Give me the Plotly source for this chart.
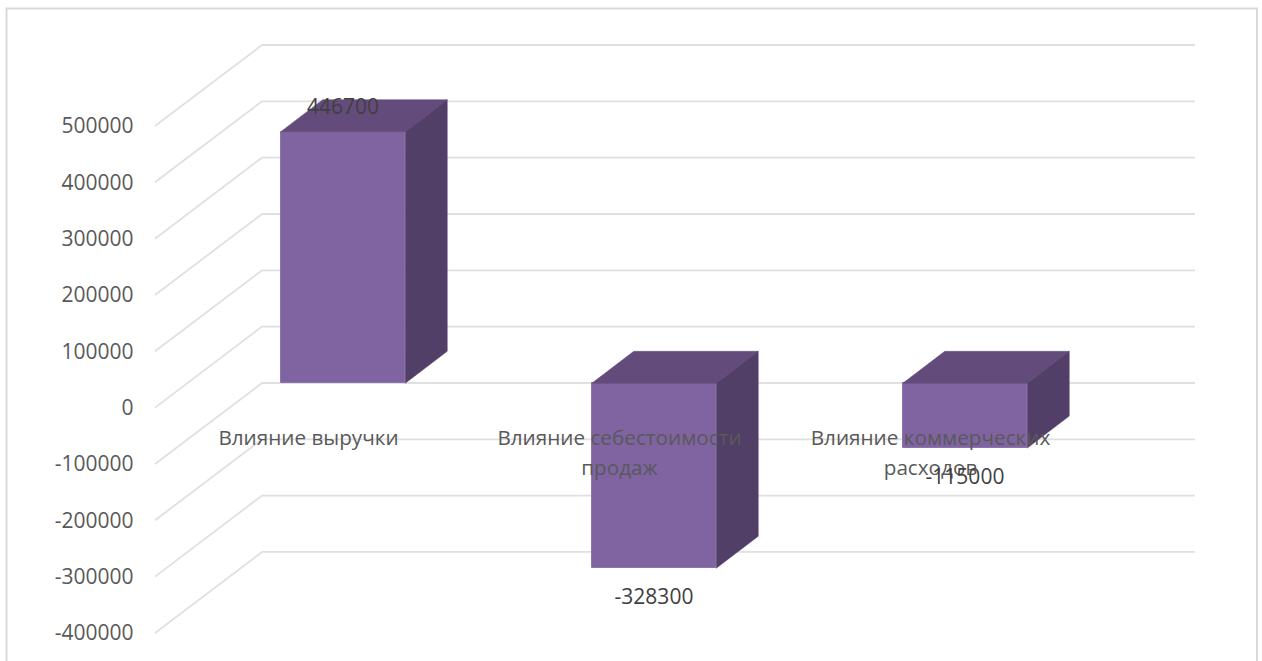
import plotly.graph_objects as go

# ---- data ----
cat_line1 = ["Влияние выручки", "Влияние себестоимости", "Влияние коммерческих"]
cat_line2 = ["", "продаж", "расходов"]
values = [446700, -328300, -115000]
tick_values = [500000, 400000, 300000, 200000, 100000, 0, -100000, -200000, -300000, -400000]

# ---- geometry (style constants for the oblique projection) ----
W, H = 1262, 661
PX_PER_X = 311.0            # pixels per category step
PX_PER_V = 56.33 / 100000   # pixels per value unit
X0_PX = 343.0               # pixel of first category
Y0_PX = 383.3               # pixel of zero on the bar plane
Y0_TICK_PX = 407.65         # pixel of zero on the front axis plane
BAR_W = 124.5 / PX_PER_X
BAR_DX, BAR_DV = 42 / PX_PER_X, 32 / PX_PER_V
WALL_DX, WALL_DV = 107 / PX_PER_X, 81 / PX_PER_V
WALL_X0 = (155 - X0_PX) / PX_PER_X
WALL_X1 = (1195 - X0_PX) / PX_PER_X
CAT_SHIFT = -34.5 / PX_PER_X

FRONT, TOP, SIDE = "#8064A2", "#634C7B", "#523F68"
GRID = "#E0E0E0"

fig = go.Figure()

# wall gridlines (front tick, diagonal, back wall), on the tick axis
for v in tick_values:
    fig.add_trace(go.Scatter(
        x=[WALL_X0, WALL_X0 + WALL_DX, WALL_X1],
        y=[v, v + WALL_DV, v + WALL_DV],
        mode="lines", line=dict(color=GRID, width=1.8),
        hoverinfo="skip", showlegend=False))

# top and side faces
for i, v in enumerate(values):
    left, right = i - BAR_W / 2, i + BAR_W / 2
    t, b = max(v, 0), min(v, 0)
    fig.add_trace(go.Scatter(
        x=[left, right, right + BAR_DX, left + BAR_DX, left],
        y=[t, t, t + BAR_DV, t + BAR_DV, t],
        mode="lines", fill="toself", fillcolor=TOP, line=dict(color=TOP, width=0.5),
        yaxis="y2", hoverinfo="skip", showlegend=False))
    fig.add_trace(go.Scatter(
        x=[right, right + BAR_DX, right + BAR_DX, right, right],
        y=[t, t + BAR_DV, b + BAR_DV, b, t],
        mode="lines", fill="toself", fillcolor=SIDE, line=dict(color=SIDE, width=0.5),
        yaxis="y2", hoverinfo="skip", showlegend=False))

# front faces
fig.add_trace(go.Bar(
    x=list(range(len(values))), y=values, width=BAR_W, yaxis="y2",
    marker=dict(color=FRONT, line=dict(color="#8E74AC", width=1)),
    showlegend=False))

# category labels
cat_x = [i + CAT_SHIFT for i in range(len(values))]
fig.add_trace(go.Scatter(
    x=cat_x, y=[(Y0_PX - 439.5) / PX_PER_V] * len(values), text=cat_line1,
    mode="text", textposition="middle center", yaxis="y2",
    textfont=dict(family="Open Sans", size=20.7, color="#595959"),
    hoverinfo="skip", showlegend=False))
fig.add_trace(go.Scatter(
    x=cat_x, y=[(Y0_PX - 470) / PX_PER_V] * len(values), text=cat_line2,
    mode="text", textposition="middle center", yaxis="y2",
    textfont=dict(family="Open Sans", size=20.7, color="#595959"),
    hoverinfo="skip", showlegend=False))

# data labels
label_y = [v + (23.2 / PX_PER_V if v > 0 else -30.7 / PX_PER_V) for v in values]
fig.add_trace(go.Scatter(
    x=list(range(len(values))), y=label_y, text=[str(v) for v in values],
    mode="text", textposition="middle center", yaxis="y2",
    textfont=dict(family="Open Sans", size=21, color="#404040"),
    hoverinfo="skip", showlegend=False))

# outer frame, open at the bottom
frame_path = (f"M {6.5/W} 0 L {6.5/W} {1-8.5/H} L {1257/W} {1-8.5/H} L {1257/W} 0")

fig.update_layout(
    width=W, height=H, margin=dict(l=0, r=0, t=0, b=0), autosize=False,
    paper_bgcolor="white", plot_bgcolor="white", bargap=0,
    xaxis=dict(range=[-X0_PX / PX_PER_X, (W - X0_PX) / PX_PER_X], visible=False, fixedrange=True),
    yaxis=dict(
        range=[(Y0_TICK_PX - H) / PX_PER_V, Y0_TICK_PX / PX_PER_V],
        anchor="free", position=133.5 / W, side="left",
        tickmode="array", tickvals=tick_values, ticktext=[str(v) for v in tick_values],
        showgrid=False, zeroline=False, showline=False, ticks="",
        tickfont=dict(family="Open Sans", size=21, color="#595959"), fixedrange=True),
    yaxis2=dict(range=[(Y0_PX - H) / PX_PER_V, Y0_PX / PX_PER_V], overlaying="y",
                visible=False, fixedrange=True),
    shapes=[dict(type="path", path=frame_path, xref="paper", yref="paper",
                 line=dict(color="#D9D9D9", width=2), layer="below")],
)
fig.write_html("out.html", config=dict(displayModeBar=False),
               post_script="document.body.style.margin='0';document.body.style.overflow='hidden';")
